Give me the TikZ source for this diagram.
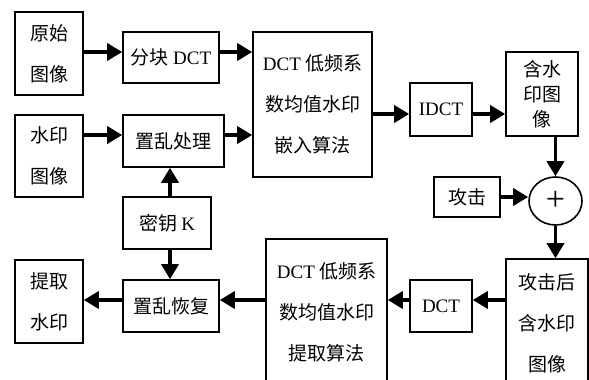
\documentclass[tikz,border=0pt]{standalone}
\usepackage{fontspec}
\setmainfont{Liberation Serif}
\newfontfamily\cjk{Noto Sans CJK SC}
\usetikzlibrary{arrows.meta,shapes.geometric,calc}
\newcommand\lat[1]{{\rmfamily #1}}
\begin{document}
\begin{tikzpicture}[x=1pt,y=-1pt,
  box/.style={draw,line width=1.6pt,inner sep=0pt,align=center,
    font=\cjk\fontsize{19}{41}\selectfont},
  tight/.style={font=\cjk\fontsize{19}{25}\selectfont},
  arr/.style={line width=3.5pt,-{Triangle[length=15pt,width=17pt]}}]
\useasboundingbox (0,0) rectangle (589,380);
% boxes
\node[box,minimum width=68pt,minimum height=83pt] (orig) at (49,53.5) {原始\\图像};
\node[box,minimum width=96pt,minimum height=51pt] (blk) at (171,57.5) {分块 \lat{DCT}};
\node[box,minimum width=119pt,minimum height=145pt] (emb) at (312.5,104.5) {\lat{DCT} 低频系\\数均值水印\\嵌入算法};
\node[box,minimum width=68pt,minimum height=82pt] (wm) at (49,156) {水印\\图像};
\node[box,minimum width=101pt,minimum height=52pt] (scr) at (173.5,141) {置乱处理};
\node[box,minimum width=88pt,minimum height=52pt] (key) at (167,223) {密钥 \lat{K}};
\node[box,minimum width=68pt,minimum height=83pt] (ext) at (49,301.5) {提取\\水印};
\node[box,minimum width=96pt,minimum height=52pt] (rec) at (171,306) {置乱恢复};
\node[box,minimum width=121pt,minimum height=146pt] (exa) at (326.5,312) {\lat{DCT} 低频系\\数均值水印\\提取算法};
\node[box,minimum width=62pt,minimum height=53pt] (idct) at (441,109.5) {\lat{IDCT}};
\node[box,tight,minimum width=72pt,minimum height=84pt] (wmi) at (542,94) {含水\\印图\\像};
\node[box,minimum width=66pt,minimum height=40pt] (atk) at (467,197) {攻击};
\node[draw,line width=1.6pt,ellipse,minimum width=53pt,minimum height=48pt,inner sep=0pt,
  font=\fontsize{34}{34}\selectfont] (plus) at (555.5,201) {+};
\node[box,minimum width=82pt,minimum height=128pt] (atw) at (547,323) {攻击后\\含水印\\图像};
\node[box,minimum width=62pt,minimum height=52pt] (dct) at (441,306) {\lat{DCT}};
% connectors
\coordinate (c1) at ([yshift=1.5pt]orig.east);
\draw[arr] (c1) -- (c1 -| blk.west);
\coordinate (c2) at ([yshift=5.5pt]blk.east);
\draw[arr] (c2) -- (c2 -| emb.west);
\coordinate (c3) at ([yshift=6pt]scr.west);
\draw[arr] (c3 -| wm.east) -- (c3);
\coordinate (c4) at ([yshift=6pt]scr.east);
\draw[arr] (c4) -- (c4 -| emb.west);
\coordinate (c5) at ([yshift=-4.5pt]idct.west);
\draw[arr] (c5 -| emb.east) -- (c5);
\coordinate (c6) at ([yshift=-4.5pt]idct.east);
\draw[arr] (c6) -- (c6 -| wmi.west);
\draw[arr] (plus.north |- wmi.south) -- (plus.north);
\draw[arr] (atk.east) -- (atk.east -| plus.west);
\draw[arr] (plus.south) -- (plus.south |- atw.north);
\coordinate (c7) at ([yshift=6pt]dct.east);
\draw[arr] (c7 -| atw.west) -- (c7);
\coordinate (c8) at ([yshift=6pt]dct.west);
\draw[arr] (c8) -- (c8 -| exa.east);
\coordinate (c9) at ([yshift=6pt]rec.east);
\draw[arr] (c9 -| exa.west) -- (c9);
\coordinate (c10) at ([yshift=6pt]rec.west);
\draw[arr] (c10) -- (c10 -| ext.east);
\coordinate (c11) at ([xshift=3pt]key.north);
\draw[arr] (c11) -- (c11 |- scr.south);
\coordinate (c12) at ([xshift=3pt]key.south);
\draw[arr] (c12) -- (c12 |- rec.north);
\end{tikzpicture}
\end{document}
